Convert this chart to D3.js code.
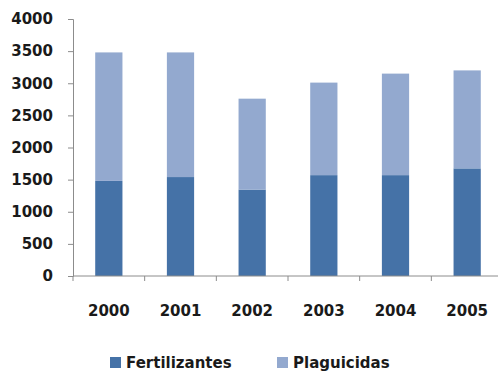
<!DOCTYPE html>
<html>
<head>
<meta charset="utf-8">
<script src="https://cdn.jsdelivr.net/npm/d3@7/dist/d3.min.js"></script>
<style>
  html, body { margin: 0; padding: 0; background: #fff; }
  svg { display: block; }
  text { font-family: "DejaVu Sans", Verdana, sans-serif; font-weight: bold; fill: #1a1a1a; }
</style>
</head>
<body>
<svg id="chart" width="498" height="372"></svg>
<script>
// Stacked consumption by year
const years = ["2000", "2001", "2002", "2003", "2004", "2005"];
const fertilizantes = [1480, 1540, 1345, 1570, 1570, 1675];
const plaguicidas = [2000, 1940, 1415, 1440, 1580, 1525];
const seriesNames = ["Fertilizantes", "Plaguicidas"];
const seriesColors = ["#4572A7", "#93A9CF"];
const yTicks = [0, 500, 1000, 1500, 2000, 2500, 3000, 3500, 4000];

const svg = d3.select("#chart");
const plot = { left: 73, right: 503, top: 19, bottom: 276 };
const fontSize = "15px";

const rows = years.map((yr, i) => ({ year: yr, Fertilizantes: fertilizantes[i], Plaguicidas: plaguicidas[i] }));
const stacked = d3.stack().keys(seriesNames)(rows);

const x = d3.scaleBand().domain(years).range([plot.left, plot.right]).paddingInner(0.62).paddingOuter(0.31);
const xOuter = d3.scaleBand().domain(years).range([plot.left, plot.right]);
const y = d3.scaleLinear().domain([0, 4000]).range([plot.bottom, plot.top]);

// bars
svg.append("g").selectAll("g").data(stacked).join("g")
  .attr("fill", (d, i) => seriesColors[i])
  .selectAll("rect").data(d => d).join("rect")
  .attr("x", d => x(d.data.year))
  .attr("width", x.bandwidth())
  .attr("y", d => y(d[1]))
  .attr("height", d => y(d[0]) - y(d[1]));

// y axis
const yAxis = svg.append("g").attr("transform", `translate(${plot.left},0)`)
  .call(d3.axisLeft(y).tickValues(yTicks).tickSize(5).tickPadding(15).tickFormat(d3.format("d")));
yAxis.select(".domain").attr("stroke", "#8c8c8c");
yAxis.selectAll(".tick line").attr("stroke", "#8c8c8c");
yAxis.selectAll("text").style("font-size", fontSize).attr("fill", "#1a1a1a");

// x axis with boundary ticks
const xg = svg.append("g").attr("transform", `translate(0,${plot.bottom})`);
xg.append("line").attr("x1", plot.left).attr("x2", plot.right).attr("stroke", "#8c8c8c");
xg.selectAll("line.bt").data(years).join("line").attr("class", "bt")
  .attr("x1", d => xOuter(d)).attr("x2", d => xOuter(d))
  .attr("y1", 0).attr("y2", 5).attr("stroke", "#8c8c8c");
xg.selectAll("text").data(years).join("text")
  .attr("x", d => x(d) + x.bandwidth() / 2)
  .attr("y", 40)
  .attr("text-anchor", "middle")
  .style("font-size", fontSize)
  .text(d => d);

// legend
const legendPos = [110, 277];
const lg = svg.append("g");
seriesNames.forEach((name, i) => {
  lg.append("rect").attr("x", legendPos[i]).attr("y", 357).attr("width", 11).attr("height", 11)
    .attr("fill", seriesColors[i]);
  lg.append("text").attr("x", legendPos[i] + 16).attr("y", 368)
    .style("font-size", fontSize).text(name);
});
</script>
</body>
</html>
